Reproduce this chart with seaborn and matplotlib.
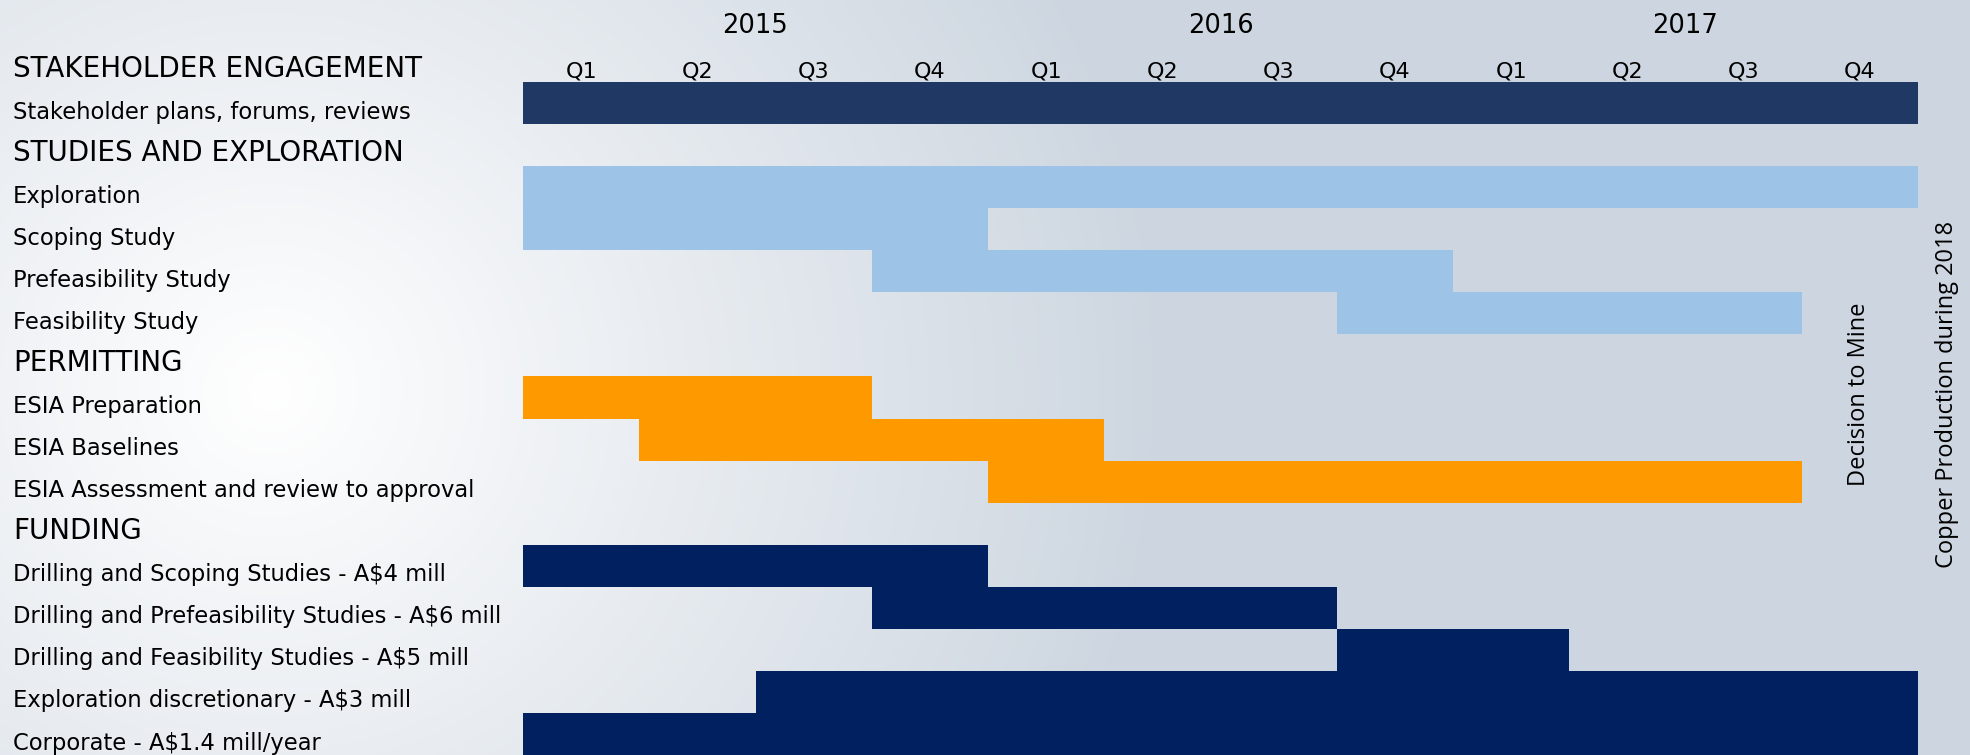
import numpy as np
import matplotlib
matplotlib.use("Agg")
import matplotlib.pyplot as plt
import seaborn as sns
from matplotlib import transforms
from matplotlib.colors import ListedColormap

# ── data: sections, tasks and their quarter spans (0 = 2015 Q1) ──────
sections = ["STAKEHOLDER ENGAGEMENT", "STUDIES AND EXPLORATION",
            "PERMITTING", "FUNDING"]
section_colors = ["#203864", "#9DC3E6", "#FF9900", "#002060"]

stakeholder_tasks = ["Stakeholder plans, forums, reviews"]
stakeholder_start = [0]
stakeholder_end = [12]

study_tasks = ["Exploration", "Scoping Study", "Prefeasibility Study",
               "Feasibility Study"]
study_start = [0, 0, 3, 7]
study_end = [12, 4, 8, 11]

permit_tasks = ["ESIA Preparation", "ESIA Baselines",
                "ESIA Assessment and review to approval"]
permit_start = [0, 1, 4]
permit_end = [3, 5, 11]

funding_tasks = ["Drilling and Scoping Studies - A$4 mill",
                 "Drilling and Prefeasibility Studies - A$6 mill",
                 "Drilling and Feasibility Studies - A$5 mill",
                 "Exploration discretionary - A$3 mill",
                 "Corporate - A$1.4 mill/year"]
funding_start = [0, 3, 7, 2, 0]
funding_end = [4, 7, 9, 12, 12]

years = ["2015", "2016", "2017"]
quarters = ["Q1", "Q2", "Q3", "Q4"]
milestones = ["Decision to Mine", "Copper Production during 2018"]

# ── build the gantt grid (rows x quarters) ───────────────────────────
groups = [
    (stakeholder_tasks, stakeholder_start, stakeholder_end),
    (study_tasks, study_start, study_end),
    (permit_tasks, permit_start, permit_end),
    (funding_tasks, funding_start, funding_end),
]
n_q = len(years) * len(quarters)
row_labels, row_header, grid_rows = [], [], []
for g, (sec, (tasks, st, en)) in enumerate(zip(sections, groups)):
    row_labels.append(sec)
    row_header.append(True)
    grid_rows.append(np.full(n_q, np.nan))
    for t, s, e in zip(tasks, st, en):
        r = np.full(n_q, np.nan)
        r[s:e] = g + 1
        row_labels.append(t)
        row_header.append(False)
        grid_rows.append(r)
grid = np.vstack(grid_rows)

# ── figure ───────────────────────────────────────────────────────────
sns.set_theme(style="white")
plt.rcParams["font.family"] = ["DejaVu Sans"]
W, H = 1970, 755
fig = plt.figure(figsize=(W / 100, H / 100), dpi=100)

# soft white-to-slate background
bg = fig.add_axes([0, 0, 1, 1], zorder=-10)
yy, xx = np.mgrid[0:H, 0:W]
d = np.hypot(xx - 270, (yy - 390) * 1.05)
t = np.clip(d / 900, 0, 1)[..., None]
white = np.array([1.0, 1.0, 1.0])
slate = np.array([0xCD, 0xD6, 0xE0]) / 255
bg.imshow(white * (1 - t) + slate * t, aspect="auto", interpolation="bilinear")
bg.axis("off")

ax = fig.add_axes([523 / W, 0, 1395 / W, 715 / H])
sns.heatmap(grid, ax=ax, cmap=ListedColormap(section_colors),
            vmin=0.5, vmax=4.5, cbar=False,
            xticklabels=False, yticklabels=False)
ax.set_facecolor("none")
ax.patch.set_alpha(0)
for s in ax.spines.values():
    s.set_visible(False)
ax.tick_params(left=False, bottom=False)

# quarter / year headings
for i in range(n_q):
    ax.text(i + 0.5, 0.88, quarters[i % 4], ha="center", va="baseline",
            fontsize=16, color="black", clip_on=False)
for i, y in enumerate(years):
    ax.text(i * 4 + 2, -0.17, y, ha="center", va="baseline",
            fontsize=18.5, color="black", clip_on=False)

# row labels on the left
trans = transforms.blended_transform_factory(fig.transFigure, ax.transData)
for r, (lab, hdr) in enumerate(zip(row_labels, row_header)):
    ax.text(13 / W, r + 0.87, lab, transform=trans, ha="left",
            va="baseline", fontsize=20 if hdr else 16.3, color="black",
            clip_on=False)

# milestones, rotated
for x, lab in zip([11.49, 12.25], milestones):
    ax.text(x, 8.42, lab, rotation=90, ha="center", va="center",
            fontsize=17, family=["Open Sans", "DejaVu Sans"],
            color="black", clip_on=False)

fig.savefig("out.png", dpi=100)
